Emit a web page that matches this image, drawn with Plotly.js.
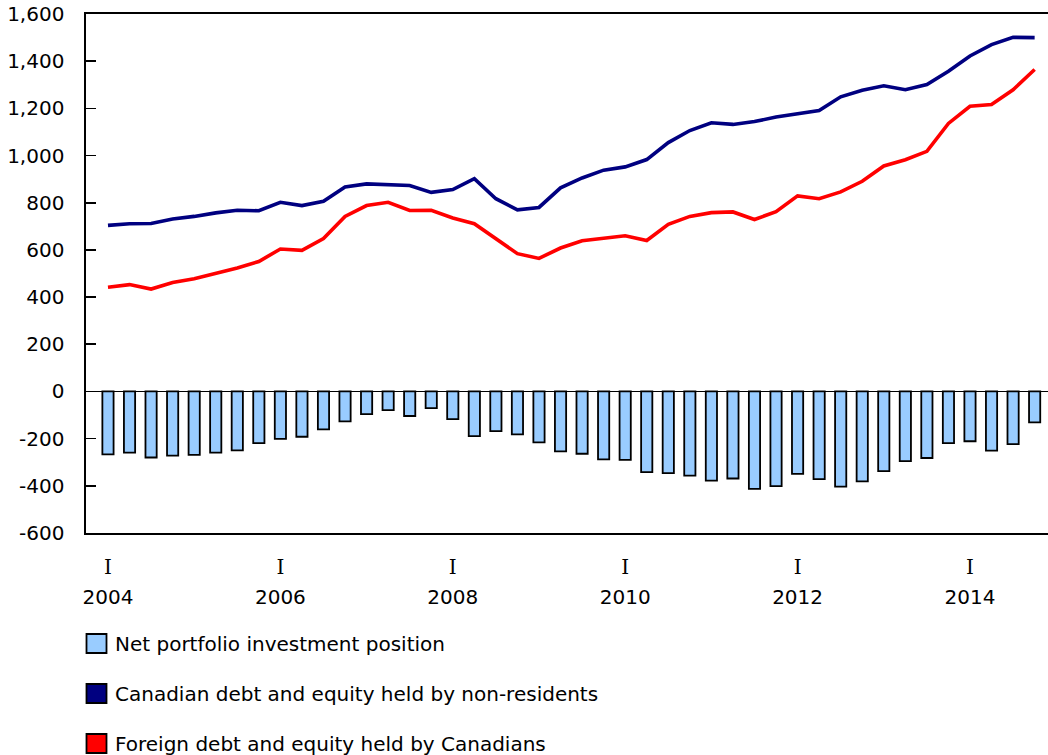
<!DOCTYPE html>
<html>
<head>
<meta charset="utf-8">
<script src="https://cdn.plot.ly/plotly-3.0.1.min.js"></script>
<style>html,body{margin:0;padding:0;background:#fff;}#chart{width:1048px;height:755px;}</style>
</head>
<body>
<div id="chart"></div>
<script>
// Quarterly periods, 2004 Q1 to 2014 Q4
const years = [2004,2005,2006,2007,2008,2009,2010,2011,2012,2013,2014];
const quarterNames = ["I","II","III","IV"];
const periods = [];
years.forEach(y => quarterNames.forEach(q => periods.push(q + " " + y)));

// Net portfolio investment position (bars)
const netPosition = [-267,-259,-280,-272,-269,-259,-250,-219,-201,-192,-161,-127,-96,-79,-104,
  -71,-117,-189,-168,-182,-216,-254,-264,-288,-290,-342,-346,-357,-378,-369,
  -413,-401,-349,-372,-403,-381,-338,-295,-282,-219,-211,-251,-223,-131];

// Canadian debt and equity held by non-residents (navy line)
const heldByNonResidents = [704,711,712,731,742,757,768,766,802,788,806,867,880,878,873,
  844,856,902,817,770,780,863,905,938,952,983,1055,1106,1139,1132,
  1144,1163,1177,1191,1249,1277,1296,1279,1301,1357,1422,1470,1501,1500];

// Foreign debt and equity held by Canadians (red line)
const heldByCanadians = [442,453,434,462,478,500,523,551,604,598,648,742,788,802,767,
  768,735,711,648,584,564,608,639,650,660,640,708,742,758,761,
  729,762,829,817,846,891,956,982,1018,1136,1209,1216,1279,1365];

const seriesNames = ["Net portfolio investment position",
  "Canadian debt and equity held by non-residents",
  "Foreign debt and equity held by Canadians"];
const seriesColors = ["#99ccff","#000080","#ff0000"];

const yTickVals = [-600,-400,-200,0,200,400,600,800,1000,1200,1400,1600];
const yTickText = ["-600","-400","-200","0","200","400","600","800","1,000","1,200","1,400","1,600"];
const xTickPeriods = ["I 2004","I 2006","I 2008","I 2010","I 2012","I 2014"];
const xTickQuarter = ["I","I","I","I","I","I"];
const xTickYear = ["2004","2006","2008","2010","2012","2014"];

const idx = periods.map((p,i)=>i);
const xTickVals = xTickPeriods.map(p => periods.indexOf(p));

const FONT = "DejaVu Sans, Verdana, sans-serif";
const FS = 20;

const traces = [
  {type:"bar", x: idx, y: netPosition, width: 0.52, name: seriesNames[0],
   marker:{color: seriesColors[0], line:{color:"#000", width:1.8}}, showlegend:false, hoverinfo:"skip"},
  {type:"scatter", mode:"lines", x: idx, y: heldByNonResidents, name: seriesNames[1],
   line:{color: seriesColors[1], width:3.6}, showlegend:false, hoverinfo:"skip"},
  {type:"scatter", mode:"lines", x: idx, y: heldByCanadians, name: seriesNames[2],
   line:{color: seriesColors[2], width:3.6}, showlegend:false, hoverinfo:"skip"},
  // invisible helper trace to render the year axis
  {type:"scatter", mode:"markers", x:[0], y:[0], xaxis:"x2", marker:{opacity:0}, showlegend:false, hoverinfo:"skip"}
];

const xRange = [-1.02, 43.62];

// Manual legend: swatches + labels
const shapes = [];
const annotations = [];
const legendY = [643.5, 693.5, 743.5]; // pixel centers
const plotTop = 14, plotBottom = 533, plotH = plotBottom - plotTop;
seriesNames.forEach((n,i)=>{
  const py = (plotBottom - legendY[i]) / plotH;
  shapes.push({type:"rect", xref:"paper", yref:"paper", xsizemode:"pixel", ysizemode:"pixel",
    xanchor:0, yanchor:py, x0:0.5, x1:20.5, y0:-9.5, y1:9.5,
    fillcolor: seriesColors[i], line:{color:"#000", width:1.8}});
  annotations.push({xref:"paper", yref:"paper", x: 27/962, y: py, xanchor:"left", yanchor:"middle",
    text: n, showarrow:false, font:{family:FONT, size:FS, color:"#000"}});
});

const layout = {
  width:1048, height:755,
  margin:{l:86, r:0, t:plotTop, b:755-plotBottom},
  paper_bgcolor:"#fff", plot_bgcolor:"#fff",
  barmode:"overlay",
  showlegend:false,
  font:{family:FONT, size:FS, color:"#000"},
  xaxis:{range:xRange, tickvals:xTickVals, ticktext:xTickQuarter, ticks:"", showgrid:false, zeroline:false,
    showline:true, linecolor:"#000", linewidth:1.6, mirror:true,
    tickfont:{family:"DejaVu Serif, serif", size:FS, color:"#000"}, ticklabelstandoff:15},
  xaxis2:{range:xRange, overlaying:"x", anchor:"y", side:"bottom", tickvals:xTickVals, ticktext:xTickYear,
    ticks:"", showgrid:false, zeroline:false, showline:false,
    tickfont:{family:FONT, size:FS, color:"#000"}, ticklabelstandoff:50},
  yaxis:{range:[-600,1600], tickvals:yTickVals, ticktext:yTickText, ticks:"inside", ticklen:10, tickwidth:1.6,
    tickcolor:"#000", showgrid:false, zeroline:true, zerolinecolor:"#000", zerolinewidth:1.6,
    showline:true, linecolor:"#000", linewidth:1.6, mirror:false, ticklabelstandoff:16,
    tickfont:{family:FONT, size:FS, color:"#000"}},
  shapes: shapes,
  annotations: annotations
};

Plotly.newPlot("chart", traces, layout, {staticPlot:true, displayModeBar:false});
</script>
</body>
</html>
